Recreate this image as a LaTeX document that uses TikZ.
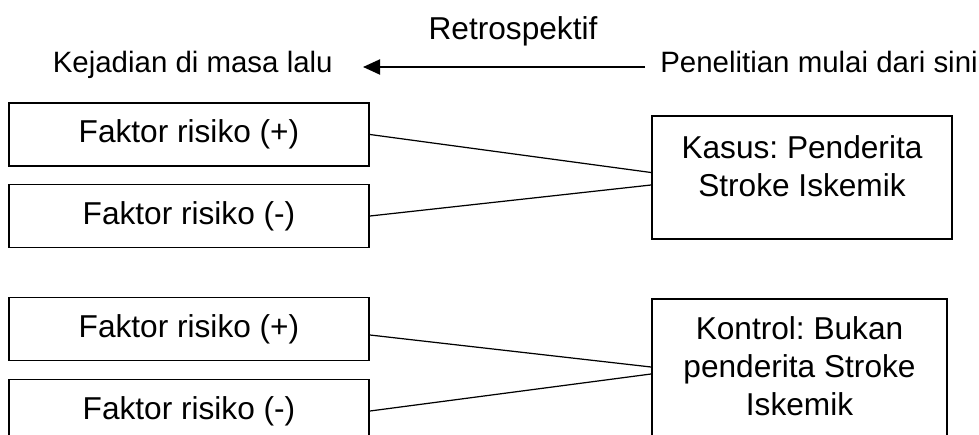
\documentclass[tikz,border=0pt]{standalone}
\usepackage{fontspec}
\setmainfont{Liberation Sans}
\usetikzlibrary{calc,arrows.meta,positioning}

\begin{document}
\frenchspacing
\begin{tikzpicture}[>={Triangle[length=0.34cm,width=0.3cm]},
  font=\fontsize{18}{21.6}\selectfont,
  faktor/.style={draw,line width=1.1pt,minimum width=7.2cm,minimum height=1.26cm,inner sep=0pt},
  grup/.style={draw,line width=1.1pt,inner sep=0pt},
  teks/.style={align=center,inner sep=0pt},
  waktu/.style={inner sep=0pt,font=\fontsize{16.75}{20}\selectfont},
  link/.style={line width=0.7pt}]
  \clip (0,0) rectangle (19.58,8.68);
  \node[anchor=base] (retro) at (10.26,7.88) {Retrospektif};
  \coordinate (mulai) at (12.9,7.34);
  \coordinate (lalu) at (7.26,7.34);
  \draw[->,line width=1.1pt] (mulai) -- (lalu);
  \node[waktu,anchor=base east] (kejadian) at ($(lalu)+(-0.6,-0.1)$) {Kejadian di masa lalu};
  \node[waktu,anchor=base west] (penelitian) at ($(mulai)+(0.3,-0.1)$) {Penelitian mulai dari sini};
  % kasus
  \node[faktor] (kp) at (3.78,5.99) {Faktor risiko (+)};
  \node[faktor] (kn) at (3.78,4.36) {Faktor risiko (-)};
  \node[grup,minimum width=6cm,minimum height=2.46cm] (kasus) at (16.04,5.13) {};
  \node[teks,below=0.4cm of kasus.north] (kasusteks) {Kasus: Penderita\\Stroke Iskemik};
  \draw[link] (kp.east) -- ($(kasus.west)+(0,0.1)$);
  \draw[link] (kn.east) -- ($(kasus.west)+(0,-0.15)$);
  % kontrol
  \node[faktor] (cp) at (3.78,2.10) {Faktor risiko (+)};
  \node[faktor] (cn) at (3.78,0.46) {Faktor risiko (-)};
  \node[grup,minimum width=5.9cm,minimum height=3cm] (kontrol) at (15.99,1.2) {};
  \node[teks,below=0.37cm of kontrol.north] (kontrolteks) {Kontrol: Bukan\\penderita Stroke\\Iskemik};
  \draw[link] ($(cp.east)+(0,-0.12)$) -- ($(kontrol.west)+(0,0.14)$);
  \draw[link] (cn.east) -- (kontrol.west);
\end{tikzpicture}
\end{document}
